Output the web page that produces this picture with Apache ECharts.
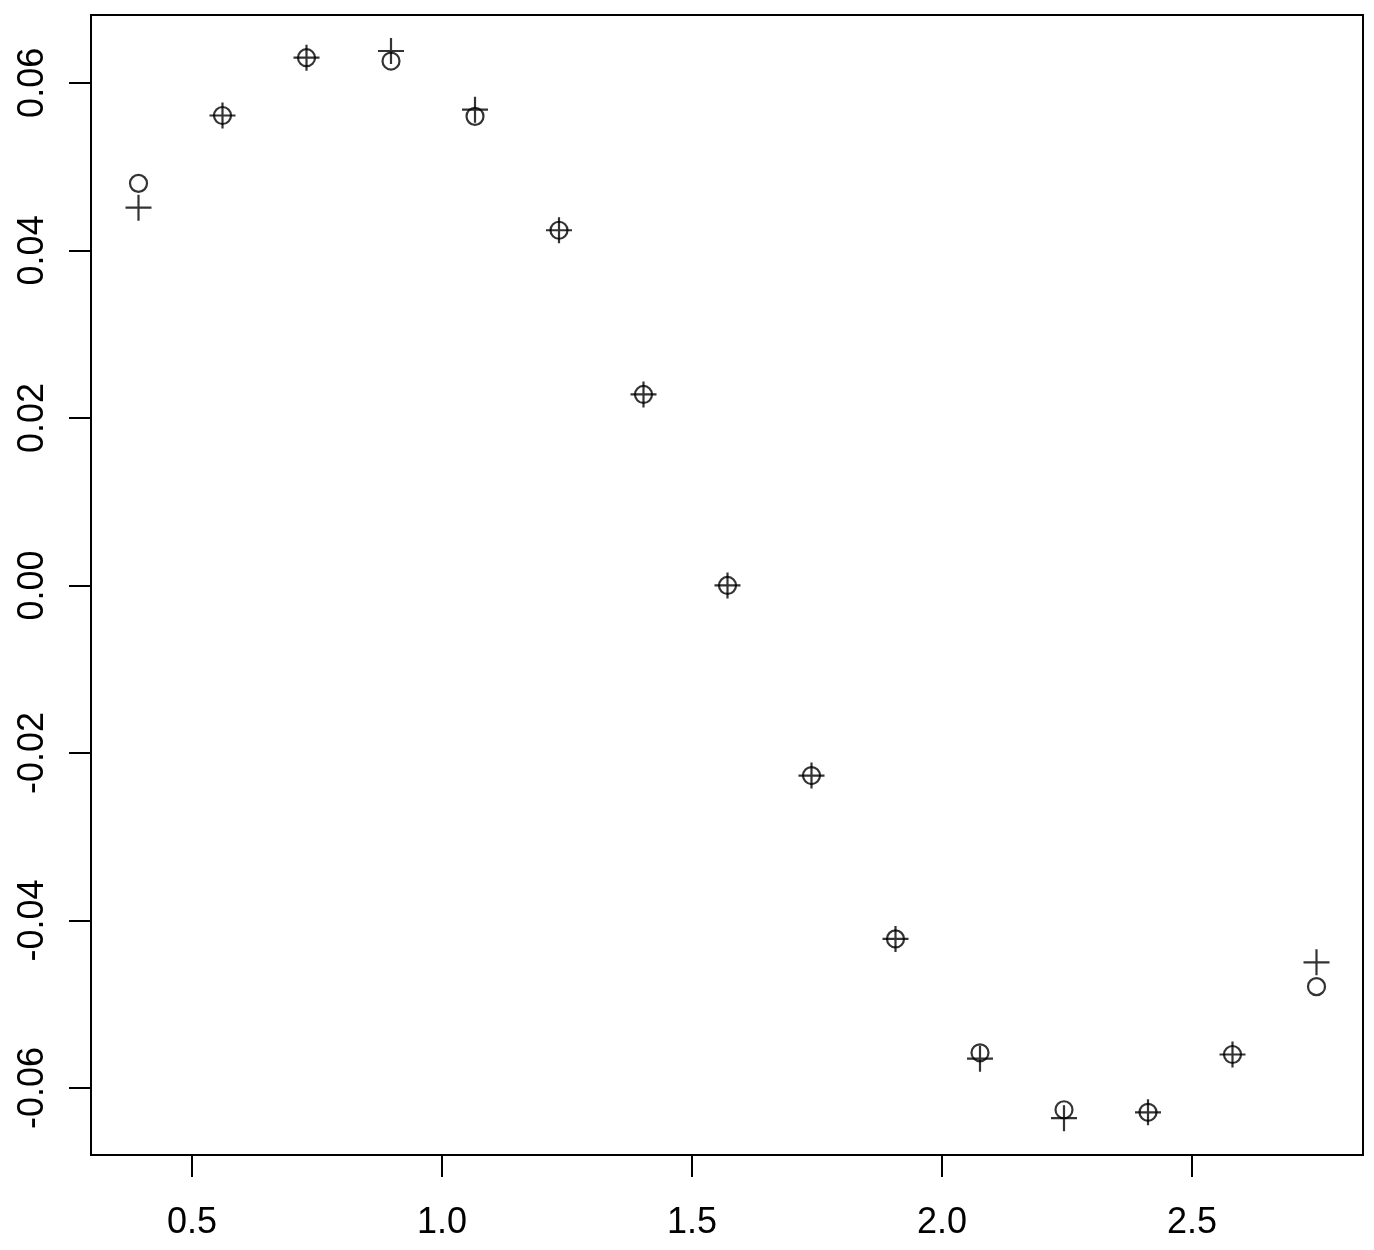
<!DOCTYPE html>
<html>
<head>
<meta charset="utf-8">
<script src="https://cdn.jsdelivr.net/npm/echarts@6/dist/echarts.min.js"></script>
<style>
  html, body { margin: 0; padding: 0; background: #fff; }
  #chart { width: 1374px; height: 1250px; }
</style>
</head>
<body>
<div id="chart"></div>
<script>
// x positions of the points
var xs = [0.393, 0.561, 0.729, 0.898, 1.066, 1.234, 1.403, 1.571, 1.739, 1.907, 2.076, 2.244, 2.412, 2.581, 2.749];
// circles
var circleVals = [0.0480, 0.0561, 0.0630, 0.0626, 0.0560, 0.0424, 0.0228, 0.0000, -0.0227, -0.0422, -0.0558, -0.0626, -0.0629, -0.0560, -0.0479];
// crosses
var crossVals = [0.0451, 0.0561, 0.0630, 0.0638, 0.0568, 0.0424, 0.0228, 0.0000, -0.0227, -0.0422, -0.0565, -0.0636, -0.0629, -0.0560, -0.0450];
// tick labels
var xTicks = [0.5, 1.0, 1.5, 2.0, 2.5];
var yTicks = [-0.06, -0.04, -0.02, 0.00, 0.02, 0.04, 0.06];

var chart = echarts.init(document.getElementById('chart'));

function pairs(vals) {
    var out = [];
    vals.forEach(function (v, i) { out.push([xs[i], v]); });
    return out;
}

var labelFont = { color: '#000', fontSize: 36, fontFamily: 'Liberation Sans, Arial, sans-serif' };

chart.setOption({
    animation: false,
    grid: {
        left: 91, right: 11, top: 15, bottom: 95,
        show: true, borderColor: '#000', borderWidth: 2, backgroundColor: 'transparent'
    },
    xAxis: {
        type: 'value',
        min: 0.298, max: 2.842,
        splitLine: { show: false },
        axisLine: { show: false, onZero: false },
        axisTick: { show: true, length: 22, lineStyle: { color: '#000', width: 2 }, customValues: xTicks },
        axisLabel: Object.assign({
            margin: 50,
            customValues: xTicks,
            formatter: function (v) { return v.toFixed(1); }
        }, labelFont)
    },
    yAxis: {
        type: 'value',
        min: -0.068, max: 0.0681,
        splitLine: { show: false },
        axisLine: { show: false, onZero: false },
        axisTick: { show: true, length: 22, lineStyle: { color: '#000', width: 2 }, customValues: yTicks },
        axisLabel: Object.assign({
            margin: 40,
            rotate: 90,
            customValues: yTicks,
            formatter: function (v) { return v.toFixed(2); }
        }, labelFont)
    },
    series: [
        {
            name: 'circle',
            type: 'scatter',
            data: pairs(circleVals),
            symbol: 'circle',
            symbolSize: 17,
            itemStyle: { color: 'rgba(0,0,0,0)', borderColor: '#000', borderWidth: 2.2 },
            z: 3
        },
        {
            name: 'cross',
            type: 'scatter',
            data: pairs(crossVals),
            symbol: 'path://M0,-10 L0,10 M-10,0 L10,0',
            symbolSize: 26,
            itemStyle: { color: 'rgba(0,0,0,0)', borderColor: '#000', borderWidth: 2.2 },
            z: 4
        }
    ]
});
</script>
</body>
</html>
